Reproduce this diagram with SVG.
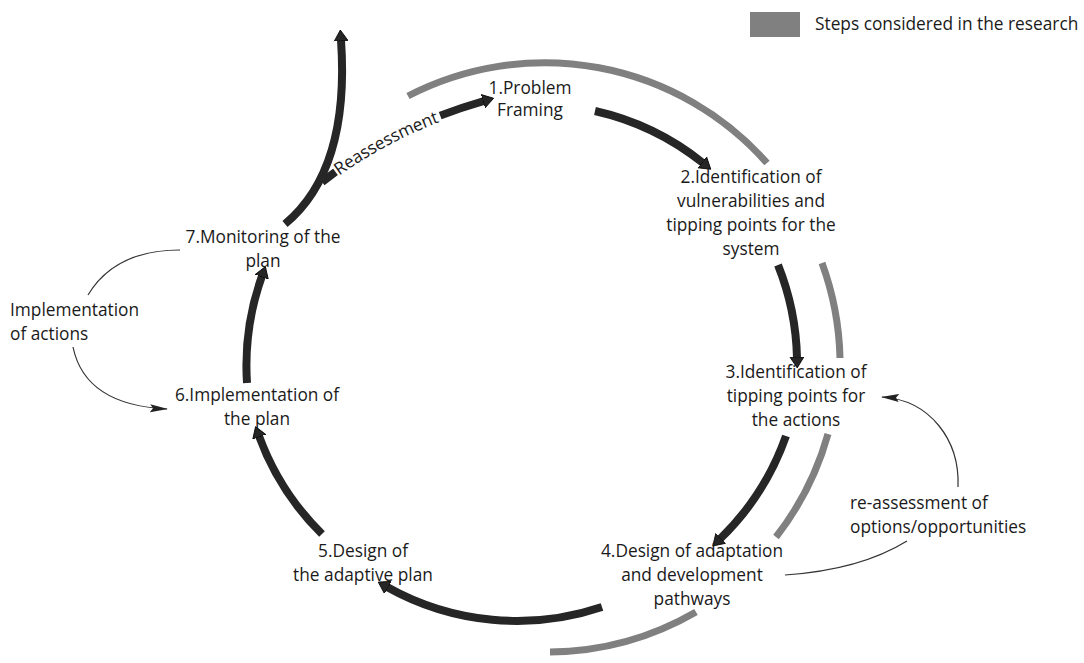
<svg xmlns="http://www.w3.org/2000/svg" width="1084" height="663" viewBox="0 0 1084 663">
<defs>
<style>
text{font-family:"Open Sans","Liberation Sans",sans-serif;font-size:17.3px;fill:#1a1a1a}
.c{text-anchor:middle}
.blk{fill:none;stroke:#262626;stroke-width:8;marker-end:url(#bh)}
.gry{fill:none;stroke:#808080;stroke-width:7}
.thin{fill:none;stroke:#333;stroke-width:1.2}
</style>
<marker id="bh" markerUnits="userSpaceOnUse" markerWidth="16" markerHeight="20" viewBox="0 0 16 20" refX="1" refY="10" orient="auto">
<path d="M0,3 L11,10 L0,17 z" fill="#262626" stroke="#000" stroke-width="0.8"/>
</marker>
<marker id="th" markerUnits="userSpaceOnUse" markerWidth="20" markerHeight="10" viewBox="0 0 20 10" refX="17" refY="5" orient="auto">
<path d="M0,1 L18,5 L0,9 L3,5 z" fill="#222"/>
</marker>
<path id="reArc" d="M322,182 Q390,128 488,100"/>
</defs>
<rect width="1084" height="663" fill="#fff"/>

<g id="legend">
<rect x="750" y="12" width="50" height="25" fill="#808080"/>
<text x="815" y="30">Steps considered in the research</text>
</g>

<g id="connectors">
<path class="gry" d="M408,96 A297,297 0 0 1 767,163"/>
<path class="gry" d="M822,263 A297,297 0 0 1 840,358"/>
<path class="gry" d="M828,434 A297,297 0 0 1 776,537"/>
<path class="gry" d="M696,612 A297,297 0 0 1 550,652"/>

<path class="blk" d="M595,111 A266,266 0 0 1 703,163"/>
<path class="blk" d="M778,265 A266,266 0 0 1 797,358"/>
<path class="blk" d="M786,436 A266,266 0 0 1 720,539"/>
<path class="blk" d="M602,607 A266,266 0 0 1 387,587"/>
<path class="blk" d="M322,534 A266,266 0 0 1 259,436"/>
<path class="blk" d="M247,383 A266,266 0 0 1 262,276"/>

<path class="blk" d="M322,182 Q390,128 484,101"/>
<path d="M322,182 Q390,128 488,100" fill="none" stroke="#fff" stroke-width="13" stroke-dasharray="0 17 119 400"/>
<text dy="5.5"><textPath href="#reArc" startOffset="18">Reassessment</textPath></text>
<path class="blk" d="M285,224 Q350,170 341,40"/>

<path class="thin" d="M88,295 Q115,250 180,250"/>
<path class="thin" d="M73,347 Q85,405 167,409" marker-end="url(#th)"/>
<path class="thin" d="M785,575 Q860,570 907,541"/>
<path class="thin" d="M958,487 C960,440 930,400 882,397" marker-end="url(#th)"/>
</g>

<g id="n1"><text class="c" x="530" y="94">1.Problem</text><text class="c" x="530" y="116">Framing</text></g>
<g id="n2"><text class="c" x="751" y="183">2.Identification of</text><text class="c" x="751" y="207">vulnerabilities and</text><text class="c" x="751" y="231">tipping points for the</text><text class="c" x="751" y="255">system</text></g>
<g id="n3"><text class="c" x="796" y="378">3.Identification of</text><text class="c" x="796" y="402">tipping points for</text><text class="c" x="796" y="426">the actions</text></g>
<g id="n4"><text class="c" x="692" y="557">4.Design of adaptation</text><text class="c" x="692" y="581">and development</text><text class="c" x="692" y="605">pathways</text></g>
<g id="n5"><text class="c" x="363" y="557">5.Design of</text><text class="c" x="363" y="581">the adaptive plan</text></g>
<g id="n6"><text class="c" x="257" y="401">6.Implementation of</text><text class="c" x="257" y="425">the plan</text></g>
<g id="n7"><text class="c" x="263" y="243">7.Monitoring of the</text><text class="c" x="263" y="267">plan</text></g>
<g id="l1"><text x="10" y="316">Implementation</text><text x="10" y="340">of actions</text></g>
<g id="l2"><text x="850" y="509">re-assessment of</text><text x="850" y="533">options/opportunities</text></g>
</svg>
